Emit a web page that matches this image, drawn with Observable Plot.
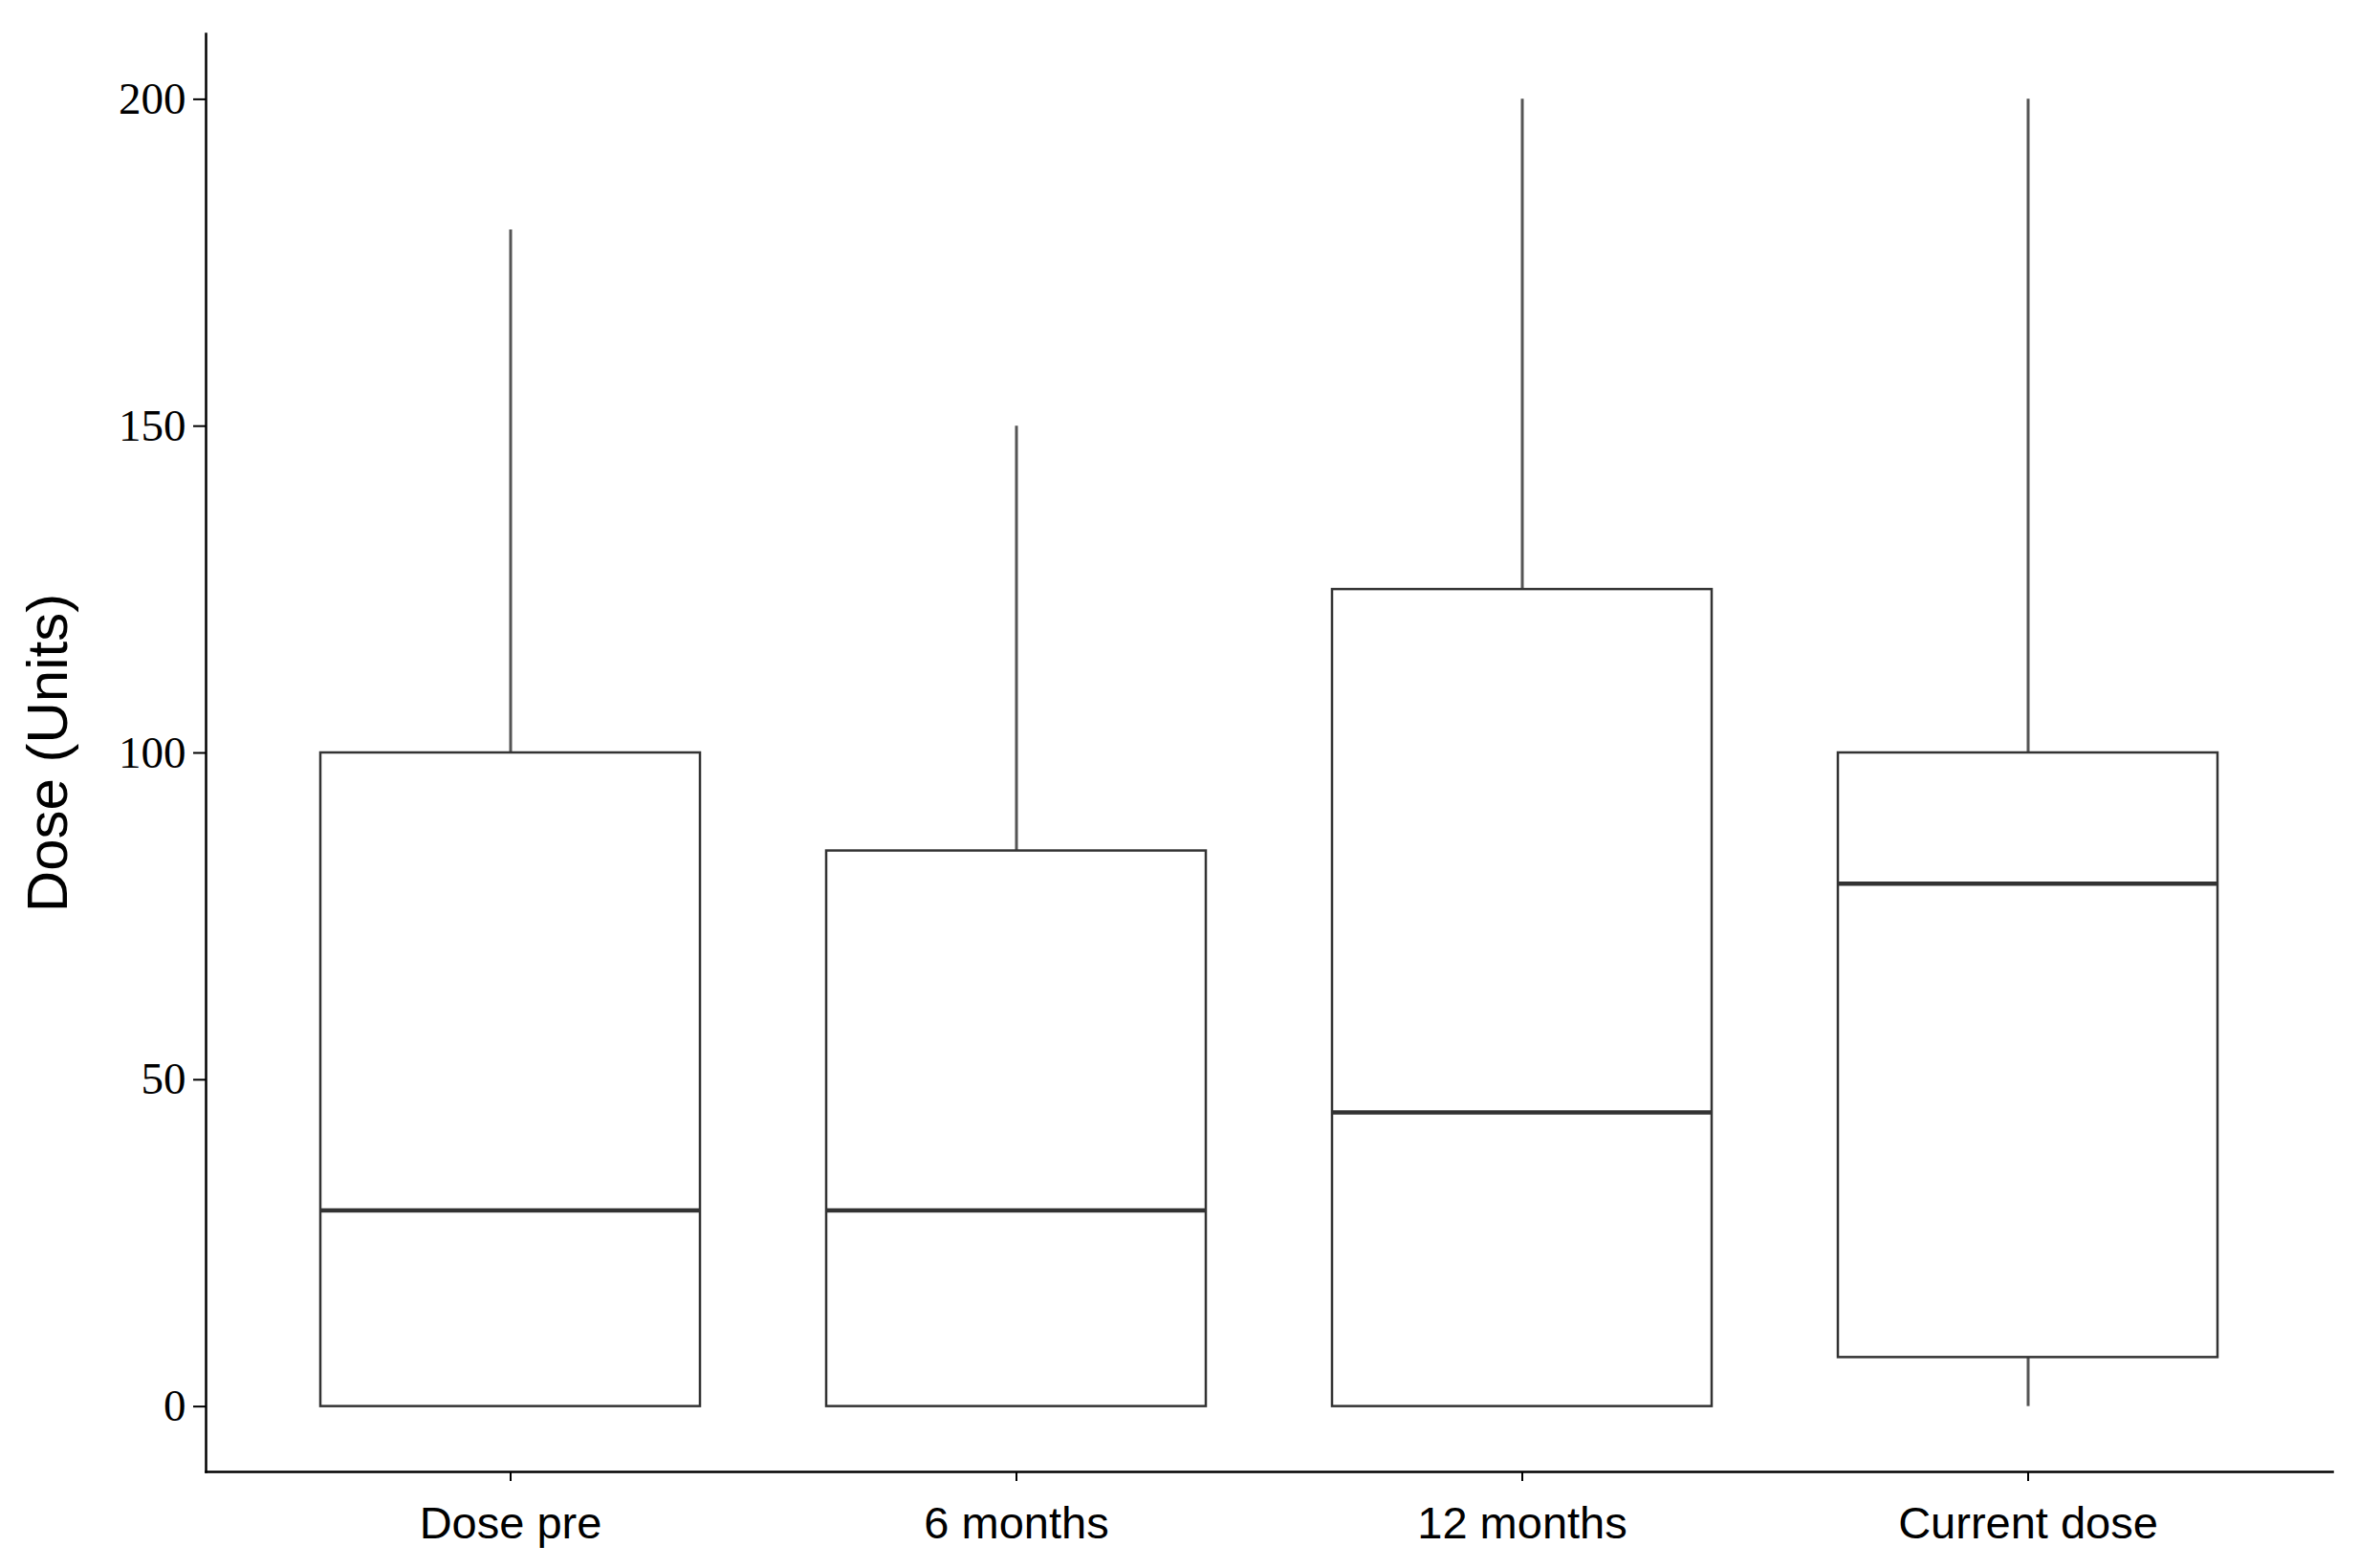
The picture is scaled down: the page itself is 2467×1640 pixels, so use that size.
<!DOCTYPE html>
<html>
<head>
<meta charset="utf-8">
<script src="https://cdn.jsdelivr.net/npm/d3@7"></script>
<script src="https://cdn.jsdelivr.net/npm/@observablehq/plot@0.6"></script>
<style>
  html, body { margin: 0; padding: 0; background: #fff; }
</style>
</head>
<body>
<div id="chart"></div>
<script>
const categories = ["Dose pre", "6 months", "12 months", "Current dose"];
const whiskerLow = [0, 0, 0, 0];
const q1 = [0, 0, 0, 7.5];
const median = [30, 30, 45, 80];
const q3 = [100, 85, 125, 100];
const whiskerHigh = [180, 150, 200, 200];
const yTicks = [0, 50, 100, 150, 200];
const yLabel = "Dose (Units)";

const data = categories.map((c, i) => ({
  cat: c, lo: whiskerLow[i], q1: q1[i], med: median[i], q3: q3[i], hi: whiskerHigh[i]
}));

const serif = "'Liberation Serif', 'DejaVu Serif', serif";
const sans = "'Liberation Sans', Arial, sans-serif";

const chart = Plot.plot({
  width: 2467,
  height: 1640,
  marginLeft: 215,
  marginRight: 28,
  marginTop: 35,
  marginBottom: 101,
  style: { background: "white", color: "black" },
  x: { domain: categories, paddingInner: 0.25, paddingOuter: 0.225 },
  y: { domain: [-10, 210] },
  marks: [
    Plot.ruleX(data, { x: "cat", y1: "q3", y2: "hi", stroke: "#555", strokeWidth: 3 }),
    Plot.ruleX(data, { x: "cat", y1: "lo", y2: "q1", stroke: "#555", strokeWidth: 3 }),
    Plot.barY(data, { x: "cat", y1: "q1", y2: "q3", fill: "white", stroke: "#333", strokeWidth: 2.5 }),
    Plot.tickY(data, { x: "cat", y: "med", stroke: "#333", strokeWidth: 4.5 }),
    Plot.frame({ anchor: "left", stroke: "black", strokeWidth: 2.5 }),
    Plot.frame({ anchor: "bottom", stroke: "black", strokeWidth: 2.5 }),
    Plot.axisY({ ticks: yTicks, tickSize: 13, tickPadding: 8, fontSize: 47, fontFamily: serif, label: null, stroke: "black", strokeWidth: 2 }),
    Plot.axisX({ tickSize: 10, tickPadding: 26, fontSize: 47, fontFamily: sans, label: null, stroke: "black", strokeWidth: 2 }),
    Plot.text([yLabel], { frameAnchor: "left", rotate: -90, dx: -165, textAnchor: "middle", fontSize: 60, fontFamily: sans, fill: "black" })
  ]
});
document.getElementById("chart").appendChild(chart);
</script>
</body>
</html>
